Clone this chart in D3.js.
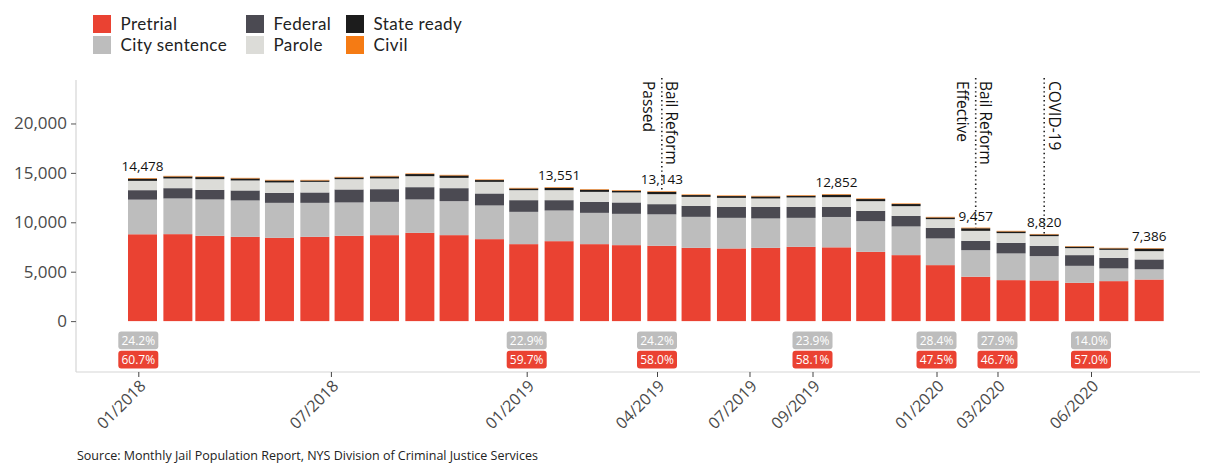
<!DOCTYPE html>
<html><head><meta charset="utf-8">
<script src="https://cdn.jsdelivr.net/npm/d3@7"></script>
<style>body{margin:0;background:#fff;} svg{display:block;font-family:'Open Sans',sans-serif;}</style>
</head><body><svg id="chart" width="1207" height="466"></svg>
<script>
const months = ["2018-01","2018-02","2018-03","2018-04","2018-05","2018-06","2018-07","2018-08","2018-09","2018-10","2018-11","2018-12",
"2019-01","2019-02","2019-03","2019-04","2019-05","2019-06","2019-07","2019-08","2019-09","2019-10","2019-11","2019-12",
"2020-01","2020-02","2020-03","2020-04","2020-05","2020-06"];
const pretrial     = [8788,8801,8629,8528,8427,8528,8629,8700,8932,8700,8295,7789,8090,7789,7688,7623,7415,7354,7415,7516,7467,7010,6677,5665,4492,4148,4119,3874,4046,4210];
const citySentence = [3504,3611,3682,3682,3540,3439,3379,3368,3379,3439,3409,3268,3103,3166,3167,3181,3136,3096,2974,2934,3072,3106,2903,2701,2686,2701,2461,1720,1285,1034];
const federal      = [960,1042,971,1012,1012,1053,1315,1285,1244,1315,1214,1183,1047,1113,1153,1032,1113,1113,1174,1113,1024,1042,1072,1072,945,1072,1037,1083,1072,997];
const parole       = [941,982,1083,1011,1052,1072,1042,1083,1113,1042,1174,1012,1012,1012,1011,1011,910,910,849,950,981,981,981,880,1012,981,982,708,810,840];
const stateReady   = [225,200,212,203,203,142,172,203,214,244,182,173,239,213,173,236,183,183,203,173,248,213,214,173,262,173,171,152,152,255];
const civil        = [60,63,60,60,60,60,60,60,60,60,60,60,60,60,60,60,60,60,60,60,60,60,60,60,60,60,50,50,50,50];

const seriesNames  = ["Pretrial","City sentence","Federal","Parole","State ready","Civil"];
const seriesColors = ["#ea4232","#bdbdbd","#4b4a52","#dcdcd8","#1c1c1c","#f57b14"];

const labelMonths = ["2018-01","2019-01","2019-04","2019-09","2020-01","2020-03","2020-06"];
const pctCity     = ["24.2%","22.9%","24.2%","23.9%","28.4%","27.9%","14.0%"];
const pctPretrial = ["60.7%","59.7%","58.0%","58.1%","47.5%","46.7%","57.0%"];
const tickMonths  = ["2018-01","2018-07","2019-01","2019-04","2019-07","2019-09","2020-01","2020-03","2020-06"];
const yTicks      = [0,5000,10000,15000,20000];
const eventMonths = ["2019-04","2020-01","2020-03"];
const eventLabels = [["Bail Reform","Passed"],["Bail Reform","Effective"],["COVID-19"]];
const sourceText  = "Source: Monthly Jail Population Report, NYS Division of Criminal Justice Services";

const parse = d3.timeParse("%Y-%m");
const seriesArrays = [pretrial, citySentence, federal, parole, stateReady, civil];
const rows = months.map((m,i) => {
  const r = {date: parse(m), month: m};
  seriesNames.forEach((s,k) => r[s] = seriesArrays[k][i]);
  r.total = d3.sum(seriesArrays, a => a[i]);
  return r;
});
const byMonth = new Map(rows.map(r => [r.month, r]));

const svg = d3.select("#chart");
const x = d3.scaleTime().domain([parse("2018-01"), parse("2020-06")]).range([142.5, 1149.2]);
const xBottom = d3.scaleTime()
  .domain([parse("2018-01"), parse("2019-01"), parse("2019-04"), parse("2020-06")])
  .range([138.3, 526.7, 657, 1091]);
const y = d3.scaleLinear().domain([-5150, 24400]).range([372, 80]);
const barW = 29;

// axis lines
svg.append("line").attr("x1",76).attr("x2",76).attr("y1",y.range()[1]).attr("y2",y.range()[0]).attr("stroke","#d6d6d6").attr("stroke-width",1.2);
svg.append("line").attr("x1",76).attr("x2",1200).attr("y1",y.range()[0]).attr("y2",y.range()[0]).attr("stroke","#d6d6d6").attr("stroke-width",1.2);

// y axis
const yAxis = svg.append("g").attr("transform","translate(76,0)")
  .call(d3.axisLeft(y).tickValues(yTicks).tickSize(5).tickPadding(4).tickFormat(d3.format(",")));
yAxis.select(".domain").remove();
yAxis.selectAll(".tick line").attr("stroke","#555");
yAxis.selectAll(".tick text").attr("fill","#4a4a4a").style("font-size","17px").style("font-family","'Open Sans',sans-serif");

// x axis (bottom)
const xAxis = svg.append("g").attr("transform",`translate(0,${y.range()[0]})`)
  .call(d3.axisBottom(xBottom).tickValues(tickMonths.map(parse)).tickSize(5).tickFormat(d3.timeFormat("%m/%Y")));
xAxis.select(".domain").remove();
xAxis.selectAll(".tick line").attr("stroke","#444");
xAxis.selectAll(".tick text").attr("fill","#4a4a4a").style("font-size","16px").style("font-family","'Open Sans',sans-serif")
  .attr("text-anchor","end").attr("dy",null).attr("y",null)
  .attr("transform","translate(8,15) rotate(-45)");

// stacked bars
const stack = d3.stack().keys(seriesNames)(rows);
svg.append("g").selectAll("g").data(stack).join("g")
  .attr("fill",(d,i) => seriesColors[i])
  .selectAll("rect").data(d => d).join("rect")
  .attr("x", d => x(d.data.date) - barW/2)
  .attr("width", barW)
  .attr("y", d => y(d[1]))
  .attr("height", d => y(d[0]) - y(d[1]));

// event lines and labels
eventMonths.forEach((m,i) => {
  const r = byMonth.get(m);
  const cx = x(r.date);
  svg.append("line").attr("x1",cx).attr("x2",cx).attr("y1",78).attr("y2",y(r.total))
    .attr("stroke","#222").attr("stroke-width",1.6).attr("stroke-dasharray","1.4,3");
  const g = svg.append("g").attr("transform",`translate(${cx},81) rotate(90)`);
  eventLabels[i].forEach((t,j) => {
    g.append("text").attr("x",0).attr("y", j === 0 ? -4.5 : 19)
      .attr("fill","#111").style("font-size","15.5px").text(t);
  });
});

// total labels
const fmt = d3.format(",");
svg.append("g").selectAll("text").data(labelMonths.map(m => byMonth.get(m))).join("text")
  .attr("x", d => x(d.date)).attr("y", d => y(d.total) - 7)
  .attr("text-anchor","middle").attr("fill","#111").style("font-size","13.5px")
  .text(d => fmt(d.total));

// percentage boxes
const boxW = 40, boxH = 17.6;
const pg = svg.append("g");
labelMonths.forEach((m,i) => {
  const cx = xBottom(parse(m));
  [[pctCity[i], -1950, seriesColors[1]], [pctPretrial[i], -3900, seriesColors[0]]].forEach(([t,v,c]) => {
    pg.append("rect").attr("x",cx-boxW/2).attr("y",y(v)-boxH/2).attr("width",boxW).attr("height",boxH)
      .attr("rx",3).attr("fill",c);
    pg.append("text").attr("x",cx).attr("y",y(v)).attr("dy","0.36em").attr("text-anchor","middle")
      .attr("fill","#fff").style("font-size","12px").text(t);
  });
});

// legend
const lg = svg.append("g");
seriesNames.forEach((s,i) => {
  const col = Math.floor(i/2), row = i % 2;
  const lx = [93, 246, 346][col], ly = 15 + row*21;
  lg.append("rect").attr("x",lx).attr("y",ly).attr("width",18).attr("height",18).attr("fill",seriesColors[i]);
  lg.append("text").attr("x",lx+27.5).attr("y",ly+15).attr("fill","#222")
    .style("font-family","Lato,sans-serif").style("font-size","17px").style("letter-spacing","0.4px").text(s);
});

// source
svg.append("text").attr("x",77).attr("y",460).attr("fill","#222").style("font-size","12.5px").text(sourceText);
</script></body></html>
